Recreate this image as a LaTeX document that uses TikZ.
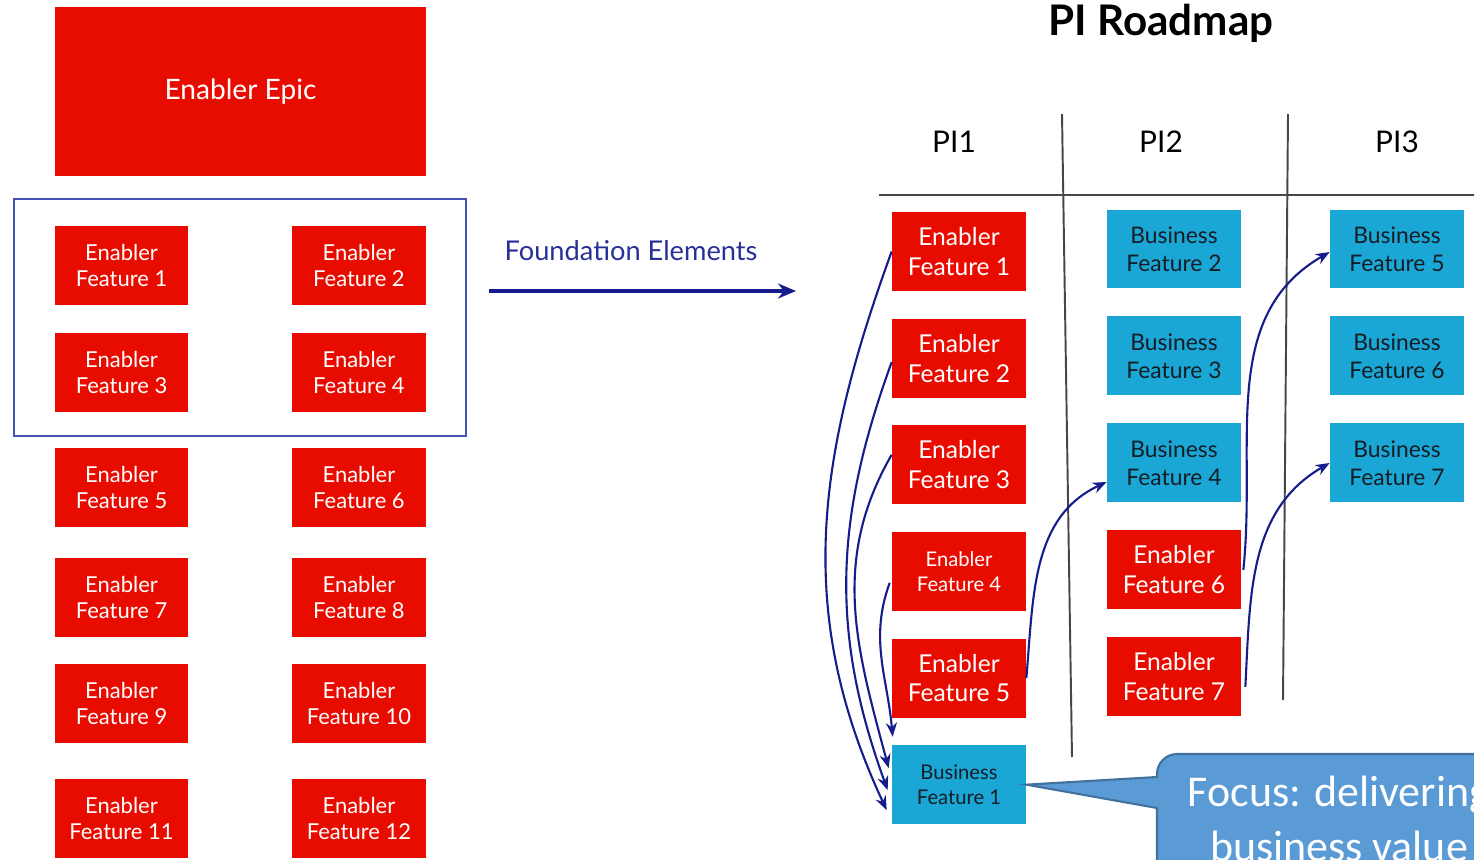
\documentclass[tikz,border=0pt]{standalone}
\usepackage{fontspec}
\setmainfont{Lato}
\newfontfamily\calloutfont{Carlito}
\usepackage{tikz}
\usetikzlibrary{positioning}
\usetikzlibrary{arrows.meta}
\definecolor{epicred}{RGB}{232,12,0}
\definecolor{bizblue}{RGB}{27,167,214}
\definecolor{bizink}{RGB}{20,28,36}
\definecolor{linknavy}{RGB}{22,28,140}
\definecolor{framenavy}{RGB}{70,82,180}
\definecolor{foundnavy}{RGB}{38,48,150}
\definecolor{gridgray}{RGB}{70,70,70}
\definecolor{calloutfill}{RGB}{91,155,213}
\definecolor{calloutedge}{RGB}{65,113,156}
\tikzset{	node distance=2.14cm,
	feature/.style={
		rectangle,
		minimum width=2.68cm,
		minimum height=1.58cm,
		inner sep=0pt,
		align=center},
	enabler/.style={feature, fill=epicred, text=white, font=\fontsize{14}{17}\selectfont},
	business/.style={feature, fill=bizblue, text=bizink, font=\fontsize{13}{16}\selectfont},
	backlog/.style={font=\fontsize{12.5}{15}\selectfont},
	smalltext/.style={font=\fontsize{11.5}{14}\selectfont},
	header/.style={font=\fontsize{17}{20}\selectfont},
	grid line/.style={draw=gridgray, line width=1.1pt},
	callout/.style={fill=calloutfill, draw=calloutedge, line width=1.2pt},
	every edge/.style={
		draw=linknavy,
		line width=1.2pt,
		-{Stealth[length=2.8mm, width=2.2mm]}}
}

\begin{document}
\begin{tikzpicture}[x=0.02cm, y=0.02cm]
	\path[use as bounding box, clip] (0,0) rectangle (1474,-859);
	% backlog
	\node[enabler, minimum width=7.42cm, minimum height=3.38cm, font=\fontsize{16}{19}\selectfont] (epic) at (240.5,-91.5) {Enabler Epic};
	\node[enabler, backlog] (l1) at (121.5,-265.5) {Enabler\\Feature 1};
	\node[enabler, backlog, right of = l1, node distance=4.75cm] (l2) {Enabler\\Feature 2};
	\node[enabler, backlog, below of = l1] (l3) {Enabler\\Feature 3};
	\node[enabler, backlog, right of = l3, node distance=4.75cm] (l4) {Enabler\\Feature 4};
	\node[enabler, backlog, below of = l3, node distance=2.3cm] (l5) {Enabler\\Feature 5};
	\node[enabler, backlog, right of = l5, node distance=4.75cm] (l6) {Enabler\\Feature 6};
	\node[enabler, backlog, below of = l5, node distance=2.2cm] (l7) {Enabler\\Feature 7};
	\node[enabler, backlog, right of = l7, node distance=4.75cm] (l8) {Enabler\\Feature 8};
	\node[enabler, backlog, below of = l7, node distance=2.12cm] (l9) {Enabler\\Feature 9};
	\node[enabler, backlog, right of = l9, node distance=4.75cm] (l10) {Enabler\\Feature 10};
	\node[enabler, backlog, below of = l9, node distance=2.3cm] (l11) {Enabler\\Feature 11};
	\node[enabler, backlog, right of = l11, node distance=4.75cm] (l12) {Enabler\\Feature 12};
	\draw[framenavy, line width=0.8pt] (14,-199) rectangle (466,-436);
	\node[text=foundnavy, font=\fontsize{15.5}{18}\selectfont] (found) at (631,-251) {Foundation Elements};
	\coordinate (fstart) at (489,-291);
	\coordinate (fend) at (796,-291);
	\draw[linknavy, line width=1.8pt, -{Stealth[length=3.6mm, width=3mm]}] (fstart) -- (fend);
	% roadmap
	\node[font=\bfseries\fontsize{24}{28}\selectfont] (title) at (1161,-23) {PI Roadmap};
	\node[header] (pi1) at (954,-142) {PI1};
	\node[header] (pi2) at (1161,-142) {PI2};
	\node[header] (pi3) at (1397,-142) {PI3};
	\draw[grid line] (879,-195) -- (1474,-195);
	\draw[grid line] (1062,-114) -- (1072,-757);
	\draw[grid line] (1288,-114) -- (1283,-700);
	\node[enabler] (r1) at (959,-251.5) {Enabler\\Feature 1};
	\node[enabler, below of = r1, node distance=2.133cm] (r2) {Enabler\\Feature 2};
	\node[enabler, below of = r2, node distance=2.133cm] (r3) {Enabler\\Feature 3};
	\node[enabler, smalltext, below of = r3, node distance=2.133cm] (r4) {Enabler\\Feature 4};
	\node[enabler, below of = r4, node distance=2.133cm] (r5) {Enabler\\Feature 5};
	\node[business, smalltext, below of = r5, node distance=2.133cm] (bf1) {Business\\Feature 1};
	\node[business] (bf2) at (1174,-249) {Business\\Feature 2};
	\node[business, below of = bf2] (bf3) {Business\\Feature 3};
	\node[business, below of = bf3] (bf4) {Business\\Feature 4};
	\node[enabler, below of = bf4] (r6) {Enabler\\Feature 6};
	\node[enabler, below of = r6] (r7) {Enabler\\Feature 7};
	\node[business] (bf5) at (1397,-249) {Business\\Feature 5};
	\node[business, below of = bf5] (bf6) {Business\\Feature 6};
	\node[business, below of = bf6] (bf7) {Business\\Feature 7};
	\draw (r1.west) edge[out=250, in=115] ([xshift=-0.1cm, yshift=-0.51cm]bf1.west);
	\draw ([yshift=-0.08cm]r2.west) edge[out=250, in=110] ([xshift=-0.08cm, yshift=-0.11cm]bf1.west);
	\draw ([yshift=0.2cm]r3.west) edge[out=240, in=105] ([xshift=-0.06cm, yshift=0.33cm]bf1.west);
	\draw ([xshift=-0.04cm, yshift=-0.23cm]r4.west) edge[out=250, in=95] ([xshift=0.02cm, yshift=0.16cm]bf1.north west);
	\draw (r5.east) edge[out=85, in=205] ([yshift=-0.38cm]bf4.west);
	\draw ([xshift=0.04cm]r6.east) edge[out=84, in=210] ([yshift=-0.06cm]bf5.west);
	\draw ([xshift=0.08cm, yshift=-0.2cm]r7.east) edge[out=87, in=210] (bf7.west);
	% callout
	\filldraw[callout] (bf1.east) -- (1157,-777) [rounded corners=0.4cm] -- (1157,-754) -- (1620,-754) [sharp corners] -- (1620,-960) -- (1157,-960) -- (1157,-808) -- cycle;
	\node[text=white, align=center, font=\calloutfont\fontsize{25}{31}\selectfont] (focus) at (1339,-819) {Focus: delivering\\business value};
\end{tikzpicture}
\end{document}
